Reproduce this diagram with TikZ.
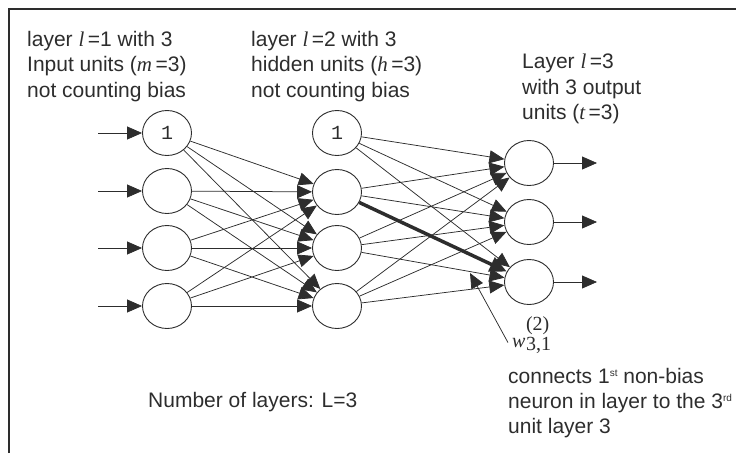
\documentclass[tikz,border=0pt]{standalone}
\usepackage{fontspec}
\setmainfont{Liberation Sans}
\newfontfamily\seriffont{Liberation Serif}
\newfontfamily\monofont{Liberation Mono}
\usetikzlibrary{arrows.meta,shapes.geometric}
\definecolor{ink}{RGB}{45,45,45}
\newcommand{\vi}[1]{{\seriffont\itshape #1}}
\newcommand{\sups}[1]{\raisebox{6.5pt}{\fontsize{10}{10}\selectfont #1}}
\begin{document}
\begin{tikzpicture}[x=1pt,y=-1pt,
  every node/.style={text=ink},
  neuron/.style={draw=ink, line width=0.9pt, ellipse, minimum width=49pt, minimum height=45pt, inner sep=0pt, font=\monofont\fontsize{20}{20}\selectfont},
  conn/.style={draw=ink, line width=0.75pt, -{Triangle[length=15pt,width=13pt]}},
  thickconn/.style={draw=ink, line width=3.5pt, -{Triangle[length=17pt,width=15pt]}},
  lbl/.style={anchor=north west, inner sep=0pt, align=left, font=\fontsize{21}{25.5}\selectfont},
]
\useasboundingbox (0,0) rectangle (736,453);
\draw[ink, line width=2pt] (9,453) -- (9,9) -- (736,9);

% text blocks
\node[lbl] (t1) at (27,31) {layer \vi{l}\,=1 with 3\\Input units (\vi{m}\,=3)\\not counting bias};
\node[lbl] (t2) at (251,31) {layer \vi{l}\,=2 with 3\\hidden units (\vi{h}\,=3)\\not counting bias};
\node[lbl] (t3) at (522,54) {Layer \vi{l}\,=3\\with 3 output\\units (\vi{t}\,=3)};
\node[anchor=base west, inner sep=0pt, font=\fontsize{21}{25}\selectfont] (nl) at (148,407) {Number of layers: L=3};
\node[lbl, font=\fontsize{21}{25}\selectfont] (t4) at (508,368) {connects 1\sups{st} non-bias\\neuron in layer to the 3\sups{rd}\\unit layer 3};

% neurons
\node[neuron] (b1) at (167,133) {1};
\node[neuron] (i1) at (167,191) {};
\node[neuron] (i2) at (167,248) {};
\node[neuron] (i3) at (167,306) {};
\node[neuron] (b2) at (337,133) {1};
\node[neuron] (h1) at (337,192) {};
\node[neuron] (h2) at (337,248) {};
\node[neuron] (h3) at (337,306) {};
\node[neuron] (o1) at (529,163) {};
\node[neuron] (o2) at (529,222) {};
\node[neuron] (o3) at (529,282) {};

% input arrows
\coordinate (s0) at (98,133);
\coordinate (s1) at (98,191);
\coordinate (s2) at (98,248);
\coordinate (s3) at (98,306);
\draw[conn] (s0) -- (b1);
\draw[conn] (s1) -- (i1);
\draw[conn] (s2) -- (i2);
\draw[conn] (s3) -- (i3);

% layer 1 -> layer 2
\foreach \s in {b1,i1,i2,i3}
  \foreach \t in {h1,h2,h3}
    \draw[conn] (\s) -- (\t);

% layer 2 -> layer 3
\foreach \s/\t in {b2/o1,b2/o2,b2/o3,h1/o1,h1/o2,h2/o1,h2/o2,h2/o3,h3/o1,h3/o2,h3/o3}
  \draw[conn] (\s) -- (\t);
\draw[thickconn] (h1) -- (o3);

% output arrows
\coordinate (e1) at (597,163);
\coordinate (e2) at (597,222);
\coordinate (e3) at (597,282);
\draw[conn] (o1) -- (e1);
\draw[conn] (o2) -- (e2);
\draw[conn] (o3) -- (e3);

% weight label
\node[anchor=base west, inner sep=0pt, font=\seriffont\fontsize{20}{20}\selectfont] (w) at (512,347)
  {\textit{w}\kern0.5pt\rlap{\raisebox{17pt}{(2)}}\raisebox{-3pt}{3,1}};
\coordinate (wtip) at (470,273);
\draw[conn] ([xshift=-4pt,yshift=-8pt]w.west) -- (wtip);
\end{tikzpicture}
\end{document}
